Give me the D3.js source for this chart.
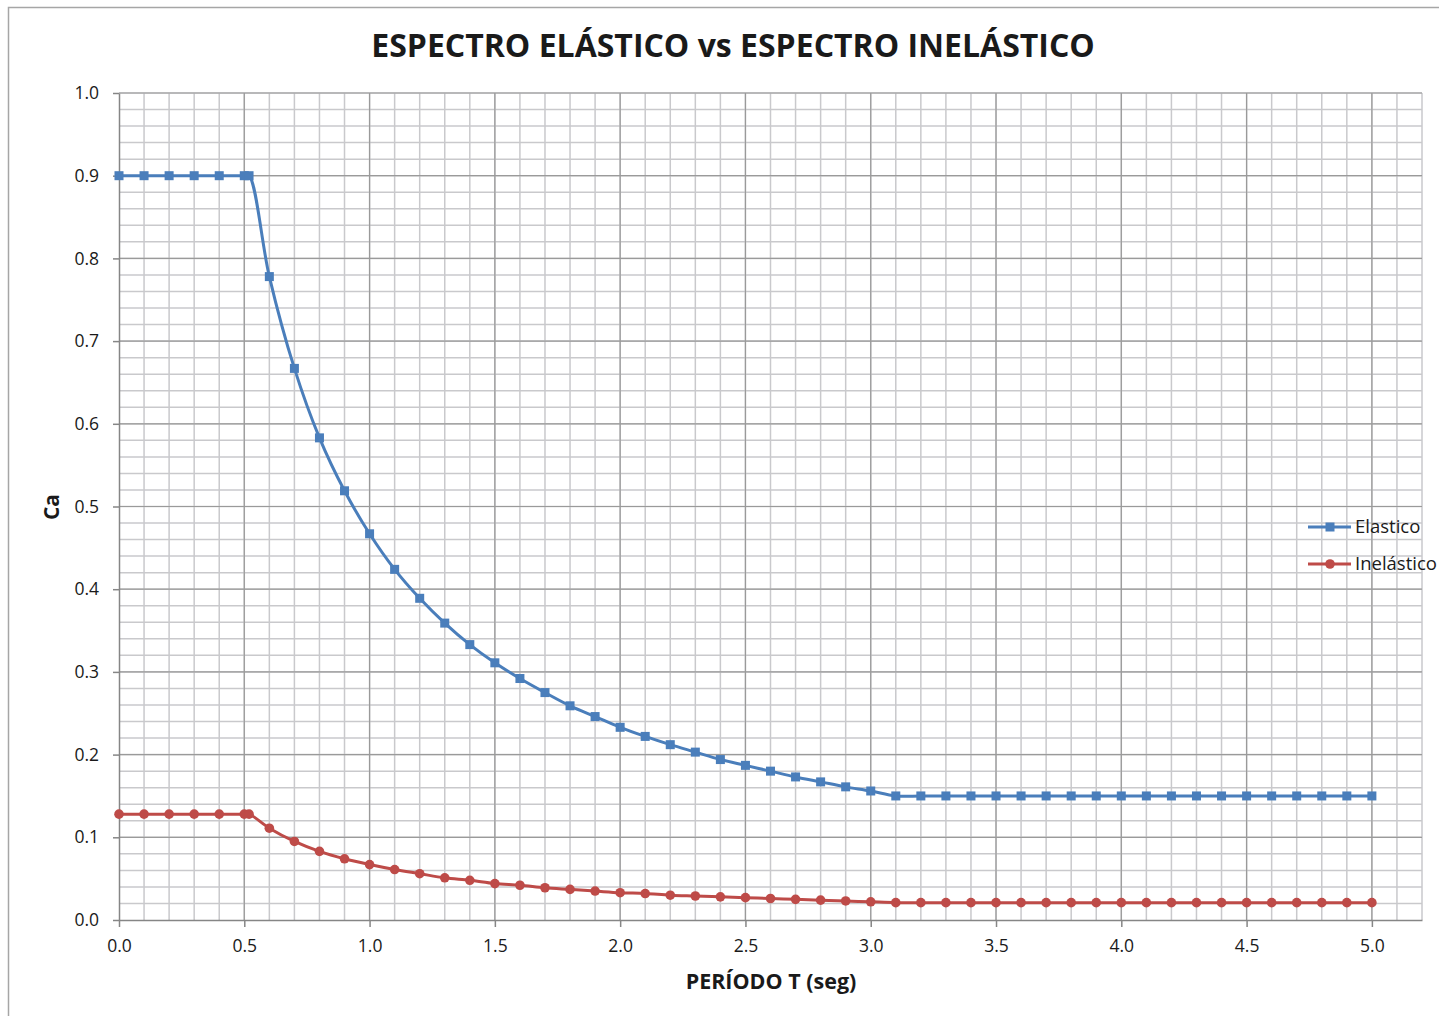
<!DOCTYPE html>
<html>
<head>
<meta charset="utf-8">
<script src="https://cdn.jsdelivr.net/npm/d3@7"></script>
<style>
  body { margin: 0; background: #fff; }
  svg text { font-family: "Open Sans", "Noto Sans", sans-serif; fill: #1a1a1a; }
</style>
</head>
<body>
<svg></svg>
<script>
var width = 1439;
var height = 1016;

// Periodo T (seg)
var periods = [0.0, 0.1, 0.2, 0.3, 0.4, 0.5, 0.519, 0.6, 0.7, 0.8, 0.9, 1.0,
  1.1, 1.2, 1.3, 1.4, 1.5, 1.6, 1.7, 1.8, 1.9, 2.0, 2.1, 2.2, 2.3, 2.4, 2.5,
  2.6, 2.7, 2.8, 2.9, 3.0, 3.1, 3.2, 3.3, 3.4, 3.5, 3.6, 3.7, 3.8, 3.9, 4.0,
  4.1, 4.2, 4.3, 4.4, 4.5, 4.6, 4.7, 4.8, 4.9, 5.0];

var elastico = [0.9, 0.9, 0.9, 0.9, 0.9, 0.9, 0.9, 0.778, 0.667, 0.583, 0.519, 0.467,
  0.424, 0.389, 0.359, 0.333, 0.311, 0.292, 0.275, 0.259, 0.246, 0.233, 0.222, 0.212,
  0.203, 0.194, 0.187, 0.180, 0.173, 0.167, 0.161, 0.156, 0.150, 0.150, 0.150, 0.150,
  0.150, 0.150, 0.150, 0.150, 0.150, 0.150, 0.150, 0.150, 0.150, 0.150, 0.150, 0.150,
  0.150, 0.150, 0.150, 0.150];

var inelastico = [0.128, 0.128, 0.128, 0.128, 0.128, 0.128, 0.128, 0.111, 0.095, 0.083,
  0.074, 0.067, 0.061, 0.056, 0.051, 0.048, 0.044, 0.042, 0.039, 0.037, 0.035, 0.033,
  0.032, 0.030, 0.029, 0.028, 0.027, 0.026, 0.025, 0.024, 0.023, 0.022, 0.021, 0.021,
  0.021, 0.021, 0.021, 0.021, 0.021, 0.021, 0.021, 0.021, 0.021, 0.021, 0.021, 0.021,
  0.021, 0.021, 0.021, 0.021, 0.021, 0.021];

var seriesNames = ["Elastico", "Inelástico"];
var seriesColors = ["#4a7ebb", "#be4b48"];

var margin = { top: 93, right: 17, bottom: 96, left: 119 };

var x = d3.scaleLinear().domain([0, 5.2]).range([margin.left, width - margin.right]);
var y = d3.scaleLinear().domain([0, 1]).range([height - margin.bottom, margin.top]);

var svg = d3.select("svg")
    .attr("width", width)
    .attr("height", height);

// outer chart border
svg.append("rect")
    .attr("x", 8.5)
    .attr("y", 7.5)
    .attr("width", width)
    .attr("height", height)
    .attr("fill", "none")
    .attr("stroke", "#a6a6a6")
    .attr("stroke-width", 1.5);

// minor grid
var grid = svg.append("g").attr("class", "grid");

grid.selectAll(".vminor")
    .data(d3.range(1, 53).map(i => i / 10))
    .enter()
    .append("line")
      .attr("x1", d => x(d))
      .attr("x2", d => x(d))
      .attr("y1", y(0))
      .attr("y2", y(1))
      .attr("stroke", "#c9c9cc")
      .attr("stroke-width", 1.5);

grid.selectAll(".hminor")
    .data(d3.range(1, 51).map(i => i / 50))
    .enter()
    .append("line")
      .attr("x1", x(0))
      .attr("x2", x(5.2))
      .attr("y1", d => y(d))
      .attr("y2", d => y(d))
      .attr("stroke", "#c9c9cc")
      .attr("stroke-width", 1.5);

// major grid
grid.selectAll(".vmajor")
    .data(d3.range(1, 11).map(i => i / 2))
    .enter()
    .append("line")
      .attr("x1", d => x(d))
      .attr("x2", d => x(d))
      .attr("y1", y(0))
      .attr("y2", y(1))
      .attr("stroke", "#9a9a9a")
      .attr("stroke-width", 1.2);

grid.selectAll(".hmajor")
    .data(d3.range(1, 11).map(i => i / 10))
    .enter()
    .append("line")
      .attr("x1", x(0))
      .attr("x2", x(5.2))
      .attr("y1", d => y(d))
      .attr("y2", d => y(d))
      .attr("stroke", "#9a9a9a")
      .attr("stroke-width", 1.2);

// axes
var xAxis = svg.append("g")
    .attr("transform", `translate(0, ${y(0)})`)
    .call(d3.axisBottom(x)
      .tickValues(d3.range(0, 11).map(i => i / 2))
      .tickFormat(d3.format(".1f"))
      .tickSize(7)
      .tickSizeOuter(0)
      .tickPadding(13));

var yAxis = svg.append("g")
    .attr("transform", `translate(${x(0)}, 0)`)
    .call(d3.axisLeft(y)
      .tickValues(d3.range(0, 11).map(i => i / 10))
      .tickFormat(d3.format(".1f"))
      .tickSize(6)
      .tickSizeOuter(0)
      .tickPadding(14));

svg.selectAll(".domain").attr("stroke", "#868686").attr("stroke-width", 1.5);
svg.selectAll(".tick line").attr("stroke", "#868686").attr("stroke-width", 1.5);
svg.selectAll(".tick text")
    .style("font-size", "17.5px")
    .attr("fill", "#1a1a1a");

// series
var series = [elastico, inelastico].map((vals, i) => ({
  name: seriesNames[i],
  color: seriesColors[i],
  points: periods.map((t, j) => ({ t: t, v: vals[j] }))
}));

var line = d3.line()
    .x(d => x(d.t))
    .y(d => y(d.v))
    .curve(d3.curveCatmullRom.alpha(0.5));

series.forEach((s, i) => {
  svg.append("path")
      .datum(s.points)
      .attr("fill", "none")
      .attr("stroke", s.color)
      .attr("stroke-width", 3)
      .attr("d", line);

  var marks = svg.append("g").selectAll("g")
      .data(s.points)
      .enter();

  if (i === 0) {
    marks.append("rect")
        .attr("x", d => x(d.t) - 4.5)
        .attr("y", d => y(d.v) - 4.5)
        .attr("width", 9)
        .attr("height", 9)
        .attr("fill", s.color);
  } else {
    marks.append("circle")
        .attr("cx", d => x(d.t))
        .attr("cy", d => y(d.v))
        .attr("r", 4.8)
        .attr("fill", s.color);
  }
});

// legend
var legend = svg.append("g");
series.forEach((s, i) => {
  var ly = 527 + i * 37;
  legend.append("line")
      .attr("x1", 1308).attr("x2", 1351)
      .attr("y1", ly).attr("y2", ly)
      .attr("stroke", s.color)
      .attr("stroke-width", 3);
  if (i === 0) {
    legend.append("rect")
        .attr("x", 1325.5).attr("y", ly - 4.5)
        .attr("width", 9).attr("height", 9)
        .attr("fill", s.color);
  } else {
    legend.append("circle")
        .attr("cx", 1330).attr("cy", ly)
        .attr("r", 4.8)
        .attr("fill", s.color);
  }
  legend.append("text")
      .attr("x", 1355)
      .attr("y", ly)
      .attr("dy", "0.35em")
      .style("font-size", "18.5px")
      .text(s.name);
});

// titles
svg.append("text")
    .attr("x", 733)
    .attr("y", 57)
    .attr("text-anchor", "middle")
    .style("font-size", "32px")
    .style("font-weight", "bold")
    .text("ESPECTRO ELÁSTICO vs ESPECTRO INELÁSTICO");

svg.append("text")
    .attr("x", 771)
    .attr("y", 989)
    .attr("text-anchor", "middle")
    .style("font-size", "21.5px")
    .style("font-weight", "bold")
    .text("PERÍODO T (seg)");

svg.append("text")
    .attr("transform", "translate(59, 507) rotate(-90)")
    .attr("text-anchor", "middle")
    .style("font-size", "21px")
    .style("font-weight", "bold")
    .text("Ca");
</script>
</body>
</html>
